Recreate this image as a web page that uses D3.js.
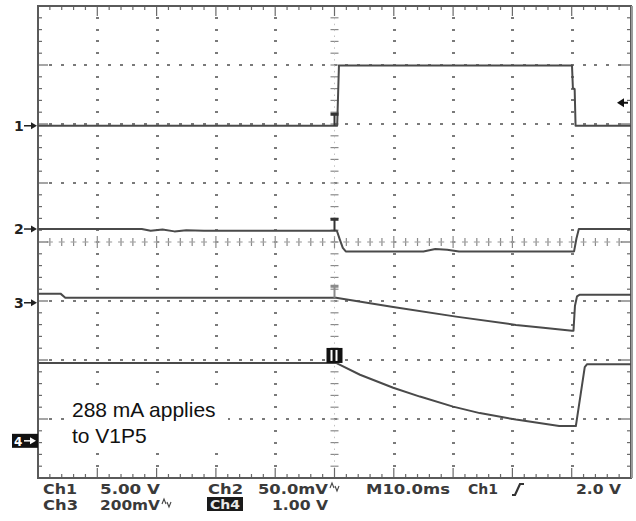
<!DOCTYPE html>
<html>
<head>
<meta charset="utf-8">
<script src="https://cdn.jsdelivr.net/npm/d3@7"></script>
<style>
  html, body { margin: 0; padding: 0; background: #fff; }
  svg { display: block; }
</style>
</head>
<body>
<svg id="scope" width="636" height="521"></svg>
<script>
// Horizontal: 10 ms/div, trigger at screen centre. Vertical: 8 divisions.
const timeDomain = [-50, 50];
const divDomain = [-4, 4];

// Channel 1 (V)
const ch1Time = [-50, 0.45, 0.75, 40.05, 40.2, 40.5, 40.65, 50];
const ch1Volt = [0, 0, 5.1, 5.1, 3.2, 3.1, 0, 0];

// Channel 2 (mV, AC coupled)
const ch2Time = [-50, -32.5, -31, -29, -27, -25, -22, 0.4, 0.9, 1.4, 1.9, 15, 17, 19, 21, 40.4, 40.8, 41.2, 50];
const ch2MilliVolt = [0, 0, -1.5, -0.5, -2, -1, -1.5, -1.5, -9, -16, -19, -19, -17, -17.5, -19, -19, -8, 0, 0];

// Channel 3 (mV)
const ch3Time = [-50, -46.2, -45.4, 0.25, 9.9, 20.5, 30.6, 35.2, 40.05, 40.3, 40.55, 40.9, 41.3, 50];
const ch3MilliVolt = [31, 31, 17, 17, -14, -47, -75, -85, -95, -95, -10, 22, 27, 27];

// Channel 4 (V)
const ch4Time = [-50, 0.25, 4.3, 9.9, 14.4, 20.0, 24.5, 30.6, 37.9, 40.7, 42.2, 42.6, 50];
const ch4Volt = [1.32, 1.32, 1.12, 0.90, 0.75, 0.58, 0.47, 0.36, 0.25, 0.25, 1.25, 1.30, 1.30];

// Per-channel vertical settings: units per division and ground position (divisions)
const channelPerDiv = [5, 50, 200, 1];
const channelGround = [1.97, 0.22, -1.03, -3.37];
const channelNames = ["1", "2", "3", "4"];
const triggerLevelDiv = 2.36; // trigger level marker on the right edge

const noteLines = ["288 mA applies", "to V1P5"];
const readoutRow1 = ["Ch1", "5.00 V", "Ch2", "50.0mV", "M10.0ms", "Ch1", "2.0 V"];
const readoutRow2 = ["Ch3", "200mV", "Ch4", "1.00 V"];

const svg = d3.select("#scope");
const plotL = 38, plotR = 631, plotT = 6, plotB = 478;

const x = d3.scaleLinear().domain(timeDomain).range([plotL, plotR]);
const y = d3.scaleLinear().domain(divDomain).range([plotB, plotT]);

const ink = "#4a4a4a";
const gridColor = "#7a7a7a";

// ---- graticule ----
const g = svg.append("g");
const majorT = d3.range(-50, 50.001, 10);
const minorT = d3.range(-50, 50.001, 2);
const majorD = d3.range(-4, 4.001, 1);
const minorD = d3.range(-4, 4.001, 0.2);

const innerMajorT = majorT.filter(t => Math.abs(t) > 1e-6 && Math.abs(t) < 49);
const innerMajorD = majorD.filter(d => Math.abs(d) > 1e-6 && Math.abs(d) < 3.9);
const innerMinorT = minorT.slice(1, -1);
const innerMinorD = minorD.slice(1, -1);

// dotted vertical grid lines: one small dash per minor division
const vDots = [];
innerMajorT.forEach(t => innerMinorD.forEach(d => vDots.push([t, d])));
g.selectAll("rect.vdot").data(vDots).join("rect").attr("class", "vdot")
  .attr("x", d => Math.round(x(d[0])) - 1).attr("y", d => Math.round(y(d[1])) - 1)
  .attr("width", 3).attr("height", 2).attr("fill", gridColor);

// dotted horizontal grid lines
const hDots = [];
innerMajorD.forEach(d => innerMinorT.forEach(t => hDots.push([t, d])));
g.selectAll("rect.hdot").data(hDots).join("rect").attr("class", "hdot")
  .attr("x", d => Math.round(x(d[0])) - 1).attr("y", d => Math.round(y(d[1])) - 1)
  .attr("width", 3).attr("height", 2).attr("fill", gridColor);

// centre axes with ticks
const isMajorT = t => Math.abs(t % 10) < 1e-6;
const isMajorD = d => Math.abs(d - Math.round(d)) < 1e-6;

g.selectAll("line.cx").data(innerMinorT).join("line").attr("class", "cx")
  .attr("x1", t => x(t)).attr("x2", t => x(t))
  .attr("y1", t => y(0) - (isMajorT(t) ? 6 : 4)).attr("y2", t => y(0) + (isMajorT(t) ? 6 : 4))
  .attr("stroke", "#8a8a8a").attr("stroke-width", 1.2);
g.selectAll("rect.cxh").data(innerMinorT).join("rect").attr("class", "cxh")
  .attr("x", t => x(t) - 3).attr("y", y(0) - 0.6).attr("width", 6).attr("height", 1.2)
  .attr("fill", "#a8a8a8");
g.selectAll("line.cy").data(innerMinorD).join("line").attr("class", "cy")
  .attr("y1", d => y(d)).attr("y2", d => y(d))
  .attr("x1", x(0) - 4).attr("x2", x(0) + 4)
  .attr("stroke", "#8a8a8a").attr("stroke-width", 1.2);
g.append("line").attr("x1", x(0)).attr("x2", x(0)).attr("y1", plotT).attr("y2", plotB)
  .attr("stroke", "#b4b4b4").attr("stroke-width", 0.8).attr("stroke-dasharray", "1.5 4.4");

// border ticks
g.selectAll("line.bt").data(innerMinorT).join("line").attr("class", "bt")
  .attr("x1", t => x(t)).attr("x2", t => x(t))
  .attr("y1", plotT).attr("y2", t => plotT + (isMajorT(t) ? 10 : 4))
  .attr("stroke", "#6a6a6a").attr("stroke-width", 1.2);
g.selectAll("line.bb").data(innerMinorT).join("line").attr("class", "bb")
  .attr("x1", t => x(t)).attr("x2", t => x(t))
  .attr("y1", plotB).attr("y2", t => plotB - (isMajorT(t) ? 10 : 4))
  .attr("stroke", "#6a6a6a").attr("stroke-width", 1.2);
g.selectAll("line.bl").data(innerMinorD).join("line").attr("class", "bl")
  .attr("y1", d => y(d)).attr("y2", d => y(d))
  .attr("x1", plotL).attr("x2", d => plotL + (isMajorD(d) ? 10 : 4))
  .attr("stroke", "#6a6a6a").attr("stroke-width", 1.2);
g.selectAll("line.br").data(innerMinorD).join("line").attr("class", "br")
  .attr("y1", d => y(d)).attr("y2", d => y(d))
  .attr("x1", plotR).attr("x2", d => plotR - (isMajorD(d) ? 10 : 4))
  .attr("stroke", "#6a6a6a").attr("stroke-width", 1.2);

// frame
g.append("rect").attr("x", plotL).attr("y", plotT)
  .attr("width", plotR - plotL).attr("height", plotB - plotT)
  .attr("fill", "none").attr("stroke", "#5a5a5a").attr("stroke-width", 2);
g.append("line").attr("x1", plotR + 1).attr("x2", plotR + 1).attr("y1", plotT).attr("y2", plotB)
  .attr("stroke", "#9a9a9a").attr("stroke-width", 2);

// ---- annotation box (covers graticule) ----
svg.append("rect").attr("x", 67).attr("y", 392).attr("width", 161).attr("height", 61).attr("fill", "#fff");
svg.selectAll("text.note").data(noteLines).join("text").attr("class", "note")
  .attr("x", 72).attr("y", (d, i) => 417 + i * 26)
  .attr("font-family", "Liberation Sans, Arial, sans-serif")
  .attr("font-size", 21).attr("fill", "#111")
  .text(d => d);

// ---- traces ----
const channels = [
  { t: ch1Time, v: ch1Volt },
  { t: ch2Time, v: ch2MilliVolt },
  { t: ch3Time, v: ch3MilliVolt },
  { t: ch4Time, v: ch4Volt }
];
const toDiv = (ci, v) => channelGround[ci] + v / channelPerDiv[ci];

channels.forEach((ch, ci) => {
  const pts = ch.t.map((t, i) => [t, ch.v[i]]);
  const line = d3.line()
    .x(d => x(d[0]))
    .y(d => y(toDiv(ci, d[1])));
  svg.append("path").datum(pts)
    .attr("d", line)
    .attr("fill", "none").attr("stroke", ink)
    .attr("stroke-width", 2).attr("stroke-linejoin", "round");
});

// ---- trigger position marks on each trace ----
[0, 1, 2].forEach(ci => {
  const tIdx = channels[ci].t.findIndex(t => t >= 0);
  const yl = y(toDiv(ci, channels[ci].v[Math.max(0, tIdx - 1)]));
  const xc = x(0);
  const col = ci === 2 ? "#8a8a8a" : "#333";
  svg.append("line").attr("x1", xc).attr("x2", xc).attr("y1", yl - 13).attr("y2", yl)
    .attr("stroke", col).attr("stroke-width", 2);
  svg.append("rect").attr("x", xc - 4).attr("y", yl - 13).attr("width", 8).attr("height", 3).attr("fill", col);
});
{
  const yl = y(toDiv(3, ch4Volt[0]));
  const xc = x(0);
  svg.append("rect").attr("x", xc - 8).attr("y", yl - 15).attr("width", 16).attr("height", 15).attr("fill", "#111");
  svg.append("rect").attr("x", xc - 4).attr("y", yl - 13).attr("width", 2).attr("height", 11).attr("fill", "#fff");
  svg.append("rect").attr("x", xc + 1).attr("y", yl - 13).attr("width", 2).attr("height", 11).attr("fill", "#fff");
}

// ---- channel ground markers on the left ----
channelNames.forEach((name, ci) => {
  const yg = y(channelGround[ci]);
  if (ci < 3) {
    svg.append("text").attr("x", 14).attr("y", yg + 5)
      .attr("font-family", "DejaVu Sans, sans-serif").attr("font-weight", "bold")
      .attr("font-size", 14).attr("fill", "#222").text(name);
    svg.append("line").attr("x1", 24).attr("x2", 32).attr("y1", yg).attr("y2", yg)
      .attr("stroke", "#222").attr("stroke-width", 1.5);
    svg.append("path").attr("d", `M${31},${yg - 3.5}L${37},${yg}L${31},${yg + 3.5}Z`).attr("fill", "#222");
  } else {
    svg.append("rect").attr("x", 12).attr("y", yg - 7).attr("width", 26).attr("height", 14).attr("fill", "#111");
    svg.append("text").attr("x", 14).attr("y", yg + 5)
      .attr("font-family", "DejaVu Sans, sans-serif").attr("font-weight", "bold")
      .attr("font-size", 12).attr("fill", "#fff").text(name);
    svg.append("line").attr("x1", 24).attr("x2", 31).attr("y1", yg).attr("y2", yg)
      .attr("stroke", "#fff").attr("stroke-width", 1.5);
    svg.append("path").attr("d", `M${30},${yg - 3.5}L${36},${yg}L${30},${yg + 3.5}Z`).attr("fill", "#fff");
  }
});

// ---- trigger level arrow on the right ----
{
  const yt = y(triggerLevelDiv);
  svg.append("path").attr("d", `M617,${yt}L624,${yt - 4.5}L624,${yt + 4.5}Z`).attr("fill", "#111");
  svg.append("line").attr("x1", 622).attr("x2", 628).attr("y1", yt).attr("y2", yt)
    .attr("stroke", "#111").attr("stroke-width", 2);
}

// ---- readout ----
const ro = svg.append("g")
  .attr("font-family", "DejaVu Sans, sans-serif")
  .attr("font-weight", "bold").attr("font-size", 14).attr("fill", "#3a3a3a");

const row1Layout = [[43, 34], [100, 60], [208, 35], [258, 70], [366, 84], [468, 30], [576, 45]];
const row2Layout = [[43, 35], [100, 60], [210, 30], [272, 56]];

readoutRow1.forEach((s, i) => {
  ro.append("text").attr("x", row1Layout[i][0]).attr("y", 494)
    .attr("textLength", row1Layout[i][1]).attr("lengthAdjust", "spacingAndGlyphs").text(s);
});
readoutRow2.forEach((s, i) => {
  if (i === 2) {
    ro.append("rect").attr("x", 207).attr("y", 497).attr("width", 36).attr("height", 14).attr("fill", "#1a1a1a");
    ro.append("text").attr("x", row2Layout[i][0]).attr("y", 509).attr("fill", "#e8e8e8")
      .attr("font-size", 12)
      .attr("textLength", row2Layout[i][1]).attr("lengthAdjust", "spacingAndGlyphs").text(s);
  } else {
    ro.append("text").attr("x", row2Layout[i][0]).attr("y", 510)
      .attr("textLength", row2Layout[i][1]).attr("lengthAdjust", "spacingAndGlyphs").text(s);
  }
});

// bandwidth-limit glyphs after the mV settings
function bwGlyph(x0, y0) {
  svg.append("path")
    .attr("d", `M${x0},${y0}l2,-5l2,5 M${x0 + 5},${y0 - 2}l2,5l2,-5`)
    .attr("fill", "none").attr("stroke", "#444").attr("stroke-width", 1.1);
}
bwGlyph(330, 488);
bwGlyph(162, 504);

// rising-slope trigger glyph
svg.append("path")
  .attr("d", "M512,495 L515,495 L520,484 L524,484")
  .attr("fill", "none").attr("stroke", "#333").attr("stroke-width", 2.2);
</script>
</body>
</html>
